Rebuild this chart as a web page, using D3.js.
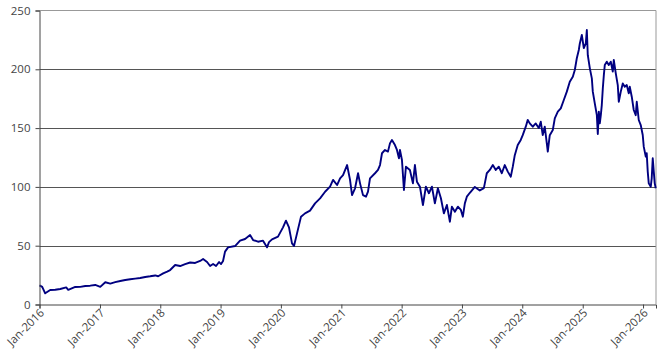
<!DOCTYPE html>
<html><head><meta charset="utf-8">
<script src="https://cdn.jsdelivr.net/npm/d3@7"></script>
<style>body{margin:0;background:#fff;}svg{display:block;}</style>
</head><body>
<svg id="chart" width="665" height="355"></svg>
<script>
// decimal-year positions of readings
const years = [2016.00,2016.045,2016.094,2016.177,2016.260,2016.343,2016.442,2016.475,2016.591,2016.674,2016.757,2016.839,2016.922,
2017.005,2017.088,2017.171,2017.253,2017.336,2017.419,2017.502,2017.584,2017.667,2017.750,2017.833,2017.916,2017.965,
2018.048,2018.114,2018.164,2018.247,2018.329,2018.412,2018.495,2018.578,2018.661,2018.710,2018.776,2018.826,2018.876,2018.925,2018.975,
2019.008,2019.041,2019.074,2019.124,2019.240,2019.323,2019.406,2019.489,2019.539,2019.621,2019.704,2019.770,2019.803,2019.853,2019.952,
2020.035,2020.084,2020.134,2020.184,2020.217,2020.267,2020.333,2020.399,2020.482,2020.565,2020.648,2020.731,2020.813,2020.863,2020.929,2020.979,
2021.028,2021.095,2021.144,2021.177,2021.227,2021.277,2021.310,2021.359,2021.409,2021.442,2021.475,2021.558,2021.608,2021.641,2021.674,2021.724,2021.773,2021.806,2021.839,2021.889,2021.922,2021.955,2021.972,
2022.005,2022.038,2022.071,2022.137,2022.187,2022.220,2022.253,2022.303,2022.353,2022.402,2022.452,2022.502,2022.551,2022.601,2022.651,2022.700,2022.750,2022.800,2022.833,2022.883,2022.932,2022.982,
2023.015,2023.048,2023.081,2023.131,2023.214,2023.296,2023.363,2023.379,2023.412,2023.462,2023.512,2023.561,2023.611,2023.661,2023.710,2023.760,2023.810,2023.843,2023.876,2023.925,2023.975,
2024.008,2024.058,2024.091,2024.124,2024.174,2024.223,2024.273,2024.306,2024.339,2024.372,2024.406,2024.422,2024.455,2024.505,2024.538,2024.588,2024.637,2024.687,2024.737,2024.786,2024.836,2024.869,2024.902,2024.935,2024.952,2024.985,
2025.018,2025.051,2025.068,2025.084,2025.118,2025.151,2025.167,2025.200,2025.234,2025.250,2025.267,2025.283,2025.300,2025.316,2025.333,2025.350,2025.366,2025.399,2025.432,2025.465,2025.498,2025.515,2025.548,2025.581,2025.598,2025.631,2025.664,2025.697,2025.730,2025.763,2025.780,2025.813,2025.846,2025.879,2025.896,2025.929,2025.962,2025.995,
2026.012,2026.045,2026.061,2026.078,2026.095,2026.128,2026.144,2026.161,2026.178,2026.194,2026.211];
const values = [16.3,15,9.5,12.3,12.5,13.2,14.5,12.5,14.9,15,15.7,16,16.6,
15,18.9,17.8,19,20,20.8,21.5,22,22.5,23.4,24,24.7,24,
26.5,28,29.3,33.6,32.7,34.4,35.7,35.3,37,38.7,36.1,32.7,34.4,32.7,36.1,
34.4,37,45,48.6,49.7,54.3,55.7,59,54.8,53.4,54.3,48.6,53,55.4,57.7,
65.6,71.3,65.6,52,49.7,60.5,74.7,77.5,79.8,86,90.3,95.9,100.2,105.9,101.6,107.3,
110,118.6,106,93,98.8,111.6,103,93,91.7,96,107.3,111.6,114.4,118.6,128.6,131.4,130,137,139.9,135.6,131.4,124.3,131.4,
122.9,97.4,117.2,114.4,103,118.6,104.4,100.2,84.6,100.2,94.6,100.2,86,98.8,90.3,77.5,84.6,70.4,83.2,78.9,83.2,80.4,
74.7,86,91.7,95,100,97,99,103,111.6,114.4,118.6,114.4,117.2,111.6,118.6,113,108.7,117.2,127,135.6,139.9,
144,151.2,157,154,151.2,154,150,155.4,144,151.2,137,130,144,148.4,158.3,164,166.8,173.9,181,189.5,193.7,199.4,209.4,216.4,222,229.2,
218,222,233.4,212,200.8,192.3,181,171,161,145,164,154,161,169.6,183.8,195,203.7,206.5,203.7,206.5,198,208,196.6,186.6,172.4,181,188,185.2,186.6,179.6,185.2,176.7,165.4,161,172.4,156.9,152.6,144.1,
134.2,125.7,128.6,113,103,100.2,107.3,124.3,113,103,98.8];
const tickYears = [2016,2017,2018,2019,2020,2021,2022,2023,2024,2025,2026];
const yTicks = [0,50,100,150,200,250];
const xStartYear = 2016.0, xEndYear = 2026.215;

function toDate(y){
  const yr = Math.floor(y);
  const start = new Date(yr,0,1), end = new Date(yr+1,0,1);
  return new Date(start.getTime() + (y-yr)*(end-start));
}
const data = years.map((y,i)=>({date:toDate(y), value:values[i]}));

const svg = d3.select("#chart");
const m = {left:39.5, top:10.5, right:656, bottom:304.5};
const x = d3.scaleTime().domain([toDate(xStartYear), toDate(xEndYear)]).range([m.left, m.right]);
const y = d3.scaleLinear().domain([0,250]).range([m.bottom, m.top]);
const font = "'Open Sans', sans-serif";

// gridlines
svg.append("g").selectAll("line").data(yTicks.filter(d=>d>0 && d<250)).join("line")
  .attr("x1", m.left).attr("x2", m.right)
  .attr("y1", d=>Math.round(y(d))+0.5).attr("y2", d=>Math.round(y(d))+0.5)
  .attr("stroke", "#555").attr("stroke-width", 1);
// top & right border
svg.append("path")
  .attr("d", `M${m.left},${m.top}H${m.right}V${m.bottom}`)
  .attr("fill","none").attr("stroke","#999").attr("stroke-width",1);

// line
const line = d3.line().x(d=>x(d.date)).y(d=>y(d.value));
svg.append("path").datum(data).attr("d", line)
  .attr("fill","none").attr("stroke","#000080").attr("stroke-width",1.9).attr("stroke-linejoin","round");

// y axis
const yAxis = svg.append("g").attr("transform", `translate(${m.left},0)`)
  .call(d3.axisLeft(y).tickValues(yTicks).tickSize(4).tickPadding(5));
yAxis.select(".domain").attr("stroke","#444");
yAxis.selectAll(".tick line").attr("stroke","#444");
yAxis.selectAll("text").attr("font-family",font).attr("font-size",11.5).attr("fill","#444");

// x axis
const xAxis = svg.append("g").attr("transform", `translate(0,${m.bottom})`)
  .call(d3.axisBottom(x).tickValues(tickYears.map(t=>new Date(t,0,1))).tickSize(4)
    .tickFormat(d3.timeFormat("Jan-%Y")));
xAxis.select(".domain").attr("stroke","#444");
xAxis.selectAll(".tick line").attr("stroke","#444");
xAxis.selectAll("text").attr("font-family",font).attr("font-size",11.5).attr("fill","#444")
  .attr("text-anchor","end").attr("dy",null).attr("y",null)
  .attr("transform","translate(5,9) rotate(-45)");
</script>
</body></html>
